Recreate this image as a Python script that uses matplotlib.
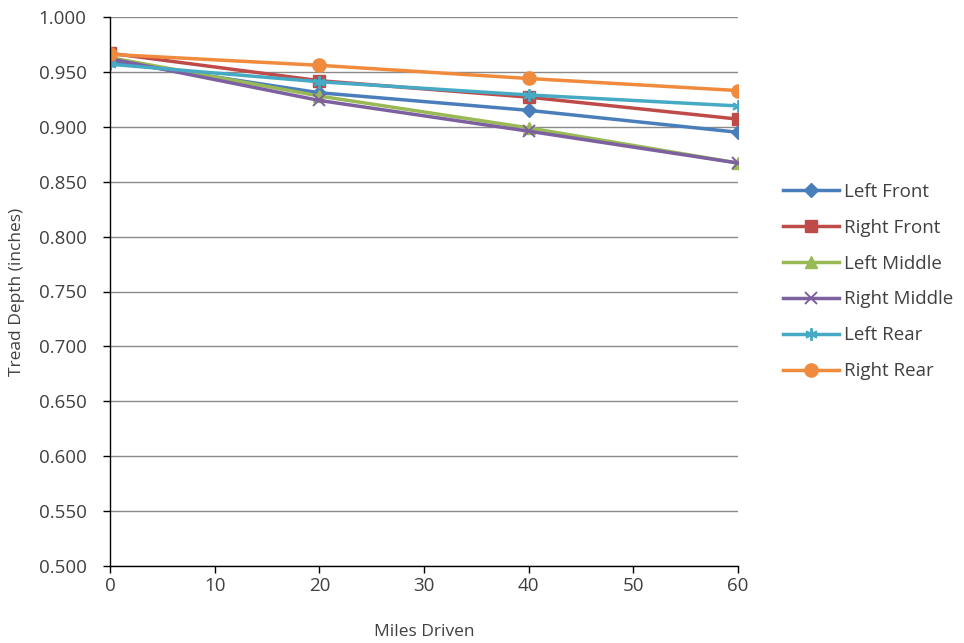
import matplotlib
matplotlib.use("Agg")
import matplotlib.pyplot as plt

miles = [0, 20, 40, 60]
series_names = ["Left Front", "Right Front", "Left Middle", "Right Middle", "Left Rear", "Right Rear"]
left_front = [0.960, 0.931, 0.915, 0.895]
right_front = [0.967, 0.942, 0.927, 0.907]
left_middle = [0.963, 0.928, 0.899, 0.867]
right_middle = [0.962, 0.924, 0.896, 0.867]
left_rear = [0.957, 0.941, 0.929, 0.919]
right_rear = [0.966, 0.956, 0.944, 0.933]
y_ticks = [0.500, 0.550, 0.600, 0.650, 0.700, 0.750, 0.800, 0.850, 0.900, 0.950, 1.000]
x_ticks = [0, 10, 20, 30, 40, 50, 60]

plt.rcParams['font.family'] = ['Open Sans', 'DejaVu Sans']

W, H = 964, 643
fig = plt.figure(figsize=(W / 100, H / 100), dpi=100)
ax = fig.add_axes([110 / W, 1 - 566 / H, 628 / W, 549 / H])

text_color = "#404040"
styles = [
    ("#4A7EBB", "D", 7, None),
    ("#BE4B48", "s", 8.5, None),
    ("#98B954", "^", 8.5, None),
    ("#7D60A0", "x", 8, 1.4),
    ("#46AAC5", (6, 2, 0), 9, 1.4),
    ("#F08A3C", "o", 9.5, None),
]
data = [left_front, right_front, left_middle, right_middle, left_rear, right_rear]

for name, vals, (color, marker, ms, mew) in zip(series_names, data, styles):
    kw = dict(color=color, lw=2.5, marker=marker, markersize=ms, label=name)
    if mew is not None:
        kw["markeredgewidth"] = mew
    ax.plot(miles, vals, **kw)

ax.set_xlim(0, 60)
ax.set_ylim(0.5, 1.0)
ax.set_xticks(x_ticks)
ax.set_yticks(y_ticks)
ax.set_yticklabels([f"{v:.3f}" for v in y_ticks])
ax.yaxis.grid(True, color="#8a8a8a", lw=1)
ax.set_axisbelow(True)
for side in ["top", "right"]:
    ax.spines[side].set_visible(False)
for side in ["left", "bottom"]:
    ax.spines[side].set_color("#000000")
    ax.spines[side].set_linewidth(1)
ax.tick_params(axis="both", colors="#000000", labelcolor=text_color, labelsize=13.5, length=5, width=1)
ax.tick_params(axis="y", pad=12)
ax.tick_params(axis="x", pad=3)

ax.set_xlabel("Miles Driven", fontsize=12.5, color=text_color, labelpad=21)
ax.set_ylabel("Tread Depth (inches)", fontsize=12.5, color=text_color, labelpad=10)

leg = ax.legend(loc="upper left", bbox_to_anchor=(783 / W, 1 - 183 / H),
                bbox_transform=fig.transFigure, frameon=False,
                fontsize=13.5, handlelength=3.0, labelspacing=0.95, handletextpad=0.25,
                borderpad=0, borderaxespad=0, labelcolor=text_color)

fig.savefig("out.png", dpi=100)
